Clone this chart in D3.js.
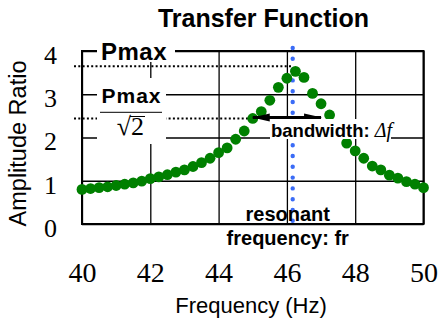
<!DOCTYPE html>
<html>
<head>
<meta charset="utf-8">
<script src="https://cdn.jsdelivr.net/npm/d3@7"></script>
<style>
  body { margin: 0; background: #fff; }
  svg { display: block; }
</style>
</head>
<body>
<svg id="chart" width="439" height="321"></svg>
<script>
// measured points (Hz, amplitude ratio)
const freqHz = [40, 40.25, 40.5, 40.75, 41, 41.25, 41.5, 41.75, 42, 42.25, 42.5, 42.75,
  43, 43.25, 43.5, 43.75, 44, 44.25, 44.5, 44.75, 45, 45.25, 45.5, 45.75, 46, 46.25,
  46.5, 46.75, 47, 47.25, 47.5, 47.75, 48, 48.25, 48.5, 48.75, 49, 49.25, 49.5, 49.75, 50];
const amplitude = [0.80, 0.82, 0.84, 0.86, 0.89, 0.92, 0.95, 0.99, 1.05, 1.09, 1.14, 1.20,
  1.25, 1.33, 1.42, 1.52, 1.65, 1.76, 1.96, 2.15, 2.44, 2.60, 2.86, 3.16, 3.37, 3.53,
  3.39, 3.02, 2.78, 2.52, 2.20, 1.87, 1.69, 1.52, 1.34, 1.25, 1.13, 1.06, 0.98, 0.92, 0.84];
const xTicks = [40, 42, 44, 46, 48, 50];
const yTicks = [0, 1, 2, 3, 4];

// annotation levels
const pMax = 3.65;
const halfPower = 2.44;
const resonantHz = 46.17;
const bandLow = 45.0;
const bandHigh = 47.0;

const sans = "'Liberation Sans', Arial, Helvetica, sans-serif";
const serif = "'Liberation Serif', 'Times New Roman', serif";

const svg = d3.select("#chart");
const x = d3.scaleLinear().domain([40, 50]).range([82, 423.5]);
const y = d3.scaleLinear().domain([0, 4]).range([224, 51]);

// grid lines + tick labels
const gx = svg.append("g")
  .attr("transform", `translate(0,${y(0)})`)
  .call(d3.axisBottom(x).tickValues(xTicks).tickFormat(d3.format("d"))
    .tickSize(y(4) - y(0)).tickPadding(38));
gx.select(".domain").remove();
gx.selectAll("line").attr("stroke", "#000").attr("stroke-width", 1.3);
gx.selectAll("text").attr("fill", "#000").style("font", `28px ${serif}`);

const gy = svg.append("g")
  .attr("transform", `translate(${x(40)},0)`)
  .call(d3.axisLeft(y).tickValues(yTicks).tickFormat(d3.format("d"))
    .tickSize(x(40) - x(50)).tickPadding(25));
gy.select(".domain").remove();
gy.selectAll("line").attr("stroke", "#000").attr("stroke-width", 1.3);
gy.selectAll("text").attr("fill", "#000").attr("dy", "0.48em").style("font", `26px ${serif}`);

// frame
svg.append("rect")
  .attr("x", x(40)).attr("y", y(4))
  .attr("width", x(50) - x(40)).attr("height", y(0) - y(4))
  .attr("fill", "none").attr("stroke", "#000").attr("stroke-width", 2);

// dotted reference lines
svg.append("line")
  .attr("x1", x(40) - 8).attr("x2", x(resonantHz))
  .attr("y1", y(pMax)).attr("y2", y(pMax))
  .attr("stroke", "#000").attr("stroke-width", 2).attr("stroke-dasharray", "2 2.3");
svg.append("line")
  .attr("x1", x(40) - 8).attr("x2", x(bandLow))
  .attr("y1", y(halfPower)).attr("y2", y(halfPower))
  .attr("stroke", "#000").attr("stroke-width", 2).attr("stroke-dasharray", "2 2.3");

// resonant frequency marker
svg.append("line")
  .attr("x1", x(resonantHz)).attr("x2", x(resonantHz))
  .attr("y1", y(4) - 3).attr("y2", y(0) - 3)
  .attr("stroke", "#3b6cf6").attr("stroke-width", 4.4)
  .attr("stroke-linecap", "round").attr("stroke-dasharray", "0 10.8");

// data points
svg.append("g").selectAll("circle")
  .data(freqHz.map((f, i) => ({ f, a: amplitude[i] })))
  .join("circle")
  .attr("cx", d => x(d.f))
  .attr("cy", d => y(d.a))
  .attr("r", 5.4)
  .attr("fill", "#008000");

// bandwidth arrow
const defs = svg.append("defs");
defs.append("marker")
  .attr("id", "head").attr("markerUnits", "userSpaceOnUse")
  .attr("viewBox", "0 -5 18 10").attr("refX", 17).attr("refY", 0)
  .attr("markerWidth", 18).attr("markerHeight", 10)
  .attr("orient", "auto-start-reverse")
  .append("path").attr("d", "M0,-4L18,0L0,4Z").attr("fill", "#000");
svg.append("line")
  .attr("x1", x(bandLow)).attr("x2", x(bandHigh))
  .attr("y1", y(halfPower) - 1).attr("y2", y(halfPower) - 1)
  .attr("stroke", "#000").attr("stroke-width", 3)
  .attr("marker-start", "url(#head)").attr("marker-end", "url(#head)");

// white box behind a label
function boxedLabel(bx, by, bw, bh) {
  svg.append("rect").attr("x", bx).attr("y", by).attr("width", bw).attr("height", bh).attr("fill", "#fff");
}

// Pmax
boxedLabel(97, 40, 78, 22);
svg.append("text")
  .attr("x", 101).attr("y", 60)
  .attr("letter-spacing", 0.5)
  .style("font", `bold 24px ${sans}`)
  .text("Pmax");

// Pmax / sqrt(2)
boxedLabel(97, 78, 69, 66);
svg.append("text")
  .attr("x", 131.5).attr("y", 103).attr("text-anchor", "middle")
  .attr("letter-spacing", 1)
  .style("font", `bold 21px ${sans}`)
  .text("Pmax");
svg.append("line")
  .attr("x1", 100).attr("x2", 162).attr("y1", 112.3).attr("y2", 112.3)
  .attr("stroke", "#000").attr("stroke-width", 1);
svg.append("text")
  .attr("x", 131).attr("y", 135).attr("text-anchor", "end")
  .style("font", `26px ${serif}`)
  .text("√");
const two = svg.append("text")
  .attr("x", 131).attr("y", 135)
  .style("font", `26px ${serif}`)
  .text("2");
svg.append("line")
  .attr("x1", 130).attr("x2", 131 + two.node().getComputedTextLength() + 1)
  .attr("y1", 116.5).attr("y2", 116.5)
  .attr("stroke", "#000").attr("stroke-width", 1);

// bandwidth label
boxedLabel(270, 119, 121, 20);
const bw = svg.append("text")
  .attr("x", 271).attr("y", 136.5)
  .style("font", `bold 18.5px ${sans}`);
bw.append("tspan").text("bandwidth: ");
bw.append("tspan").style("font", `italic 20px ${serif}`).text("Δf");

// resonant frequency label
svg.append("text")
  .attr("x", x(resonantHz) - 5).attr("y", 221).attr("text-anchor", "middle")
  .style("font", `bold 20px ${sans}`)
  .text("resonant");
svg.append("text")
  .attr("x", x(resonantHz) - 5).attr("y", 245).attr("text-anchor", "middle")
  .style("font", `bold 20px ${sans}`)
  .text("frequency: fr");

// titles
svg.append("text")
  .attr("x", 263.5).attr("y", 27).attr("text-anchor", "middle")
  .style("font", `bold 25px ${sans}`)
  .text("Transfer Function");
svg.append("text")
  .attr("x", 251).attr("y", 313).attr("text-anchor", "middle")
  .style("font", `22px ${sans}`)
  .text("Frequency (Hz)");
svg.append("text")
  .attr("transform", "translate(26,143.5) rotate(-90)")
  .attr("text-anchor", "middle")
  .style("font", `23.5px ${sans}`)
  .text("Amplitude Ratio");
</script>
</body>
</html>
